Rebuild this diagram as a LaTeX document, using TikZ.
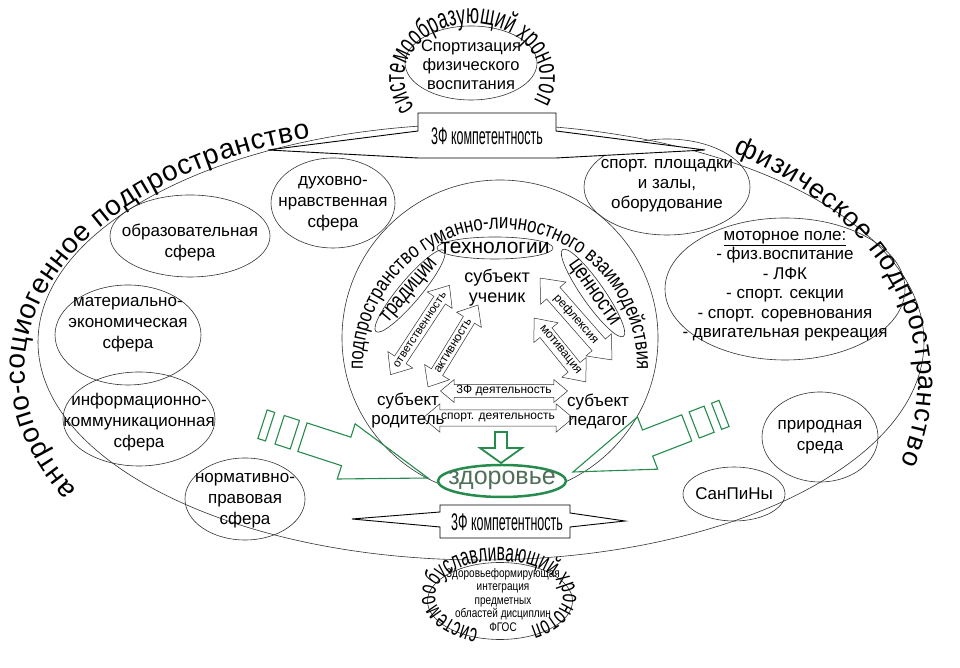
\documentclass[tikz,border=0pt]{standalone}
\usepackage{fontspec}
\setmainfont{Liberation Sans}
\newfontfamily\narA[FakeStretch=0.62]{Liberation Sans}
\newfontfamily\narB[FakeStretch=0.8]{Liberation Sans}
\newfontfamily\narC[FakeStretch=0.52]{Liberation Sans}
\usetikzlibrary{shapes.geometric,shapes.arrows,decorations.text}
\definecolor{grn}{RGB}{38,140,78}
\definecolor{grntxt}{RGB}{80,110,90}
\definecolor{ln}{RGB}{50,50,50}
\newcommand\fsz[2]{\fontsize{#1}{#2}\selectfont}
\begin{document}
\begin{tikzpicture}[x=1pt,y=1pt,
  every node/.style={inner sep=0pt,outer sep=0pt},
  sph/.style={draw=ln,line width=0.6pt,ellipse},
  lab/.style={align=center,font=\fsz{17}{21}},
  curv/.style={decorate,decoration={text along path,text align=fit to path,text={#1}}},
  curvc/.style={decorate,decoration={text along path,text align=center,text={#1}}},
  darr/.style={double arrow,draw=ln,line width=0.5pt,double arrow tip angle=80,inner xsep=1pt},
  garr/.style={draw=grn,line width=1.1pt,line join=miter},
  ban/.style={draw=black,line width=0.9pt,fill=white,line join=miter}]
\useasboundingbox (0,0) rectangle (960,668);
\begin{scope}[shift={(0,668)}]
% outer sphere
\node[sph,fill=white,minimum width=886,minimum height=436] (outer) at (481,-342) {};
\path[curv={|\fsz{28}{28}|антропо-социогенное подпространство}] (410,-370) ++(210:385 and 240) arc[start angle=210,end angle=105,x radius=385,y radius=240];
\path[curv={|\fsz{27}{27}|физическое подпространство}] (560,-382) ++(61:358 and 262) arc[start angle=61,end angle=-18,x radius=358,y radius=262];
% middle sphere
\node[draw=ln,line width=0.6pt,circle,minimum size=316] (mid) at (500,-338) {};
\path[curvc={|\narB\fsz{21}{21}|подпространство гуманно-личностного взаимодействия}] (500,-366) ++(185:137) arc[start angle=185,end angle=-5,radius=137];
% left spheres
\node[sph,minimum width=124,minimum height=90] (duh) at (333,-203) {};
\node[lab] (duhT) at (333,-204) {духовно-\\нравственная\\сфера};
\node[sph,minimum width=160,minimum height=82] (obr) at (190,-236) {};
\node[lab] (obrT) at (190,-243) {образовательная\\сфера};
\node[sph,minimum width=146,minimum height=100] (mat) at (128,-335) {};
\node[lab] (matT) at (128,-325) {материально-\\экономическая\\сфера};
\node[sph,minimum width=152,minimum height=94] (inf) at (139,-419) {};
\node[lab] (infT) at (139,-422) {информационно-\\коммуникационная\\сфера};
\node[sph,minimum width=120,minimum height=82] (nor) at (245,-499) {};
\node[lab] (norT) at (245,-501) {нормативно-\\правовая\\сфера};
% right spheres
\node[sph,minimum width=166,minimum height=96] (spo) at (667,-187) {};
\node[lab,font=\fsz{17}{20}] (spoT) at (667,-186) {спорт. площадки\\и залы,\\оборудование};
\node[sph,minimum width=240,minimum height=142] (mot) at (785,-289) {};
\node[lab,font=\fsz{17}{19.5}] (motT) at (785,-286) {\underline{моторное поле:}\\- физ.воспитание\\- ЛФК\\- спорт. секции\\- спорт. соревнования\\- двигательная рекреация};
\node[sph,minimum width=116,minimum height=90] (pri) at (820,-437) {};
\node[lab] (priT) at (820,-437) {природная\\среда};
\node[sph,minimum width=102,minimum height=54] (san) at (734,-494) {};
\node[lab] (sanT) at (734,-494) {СанПиНы};
% top chronotope
\node[sph,fill=white,minimum width=132,minimum height=74] (topE) at (471,-63) {};
\node[align=center,font=\fsz{16.5}{19}] (topT) at (471,-65) {Спортизация\\физического\\воспитания};
\path[curvc={|\narA\fsz{28}{28}|системообразующий хронотоп}] (472,-78) ++(234:68 and 54) arc[start angle=234,end angle=-47,x radius=68,y radius=54];
% bottom chronotope
\node[sph,fill=white,minimum width=145,minimum height=77] (botE) at (500,-601) {};
\node[align=center,font=\narB\fsz{12.5}{13.5}] (botT) at (503,-600) {Здоровьеформирующая\\интеграция\\предметных\\областей дисциплин\\ФГОС};
\path[curvc={|\narA\fsz{25}{25}|системообуславливающий хронотоп}] (499,-596) ++(275:64 and 35) arc[start angle=275,end angle=-85,x radius=64,y radius=35];
% banners
\path[ban] (268,-150) -- (418,-131) -- (418,-113) -- (556,-113) -- (556,-131) -- (705,-150) -- (556,-158) -- (418,-158) -- cycle;
\node[font=\narC\fsz{24}{24}] (kt1) at (487,-136) {3Ф компетентность};
\path[ban] (352,-519) -- (440,-512) -- (440,-505) -- (570,-505) -- (570,-513) -- (625,-521) -- (570,-527) -- (570,-538) -- (440,-538) -- (440,-527) -- cycle;
\node[font=\narC\fsz{24}{24}] (kt2) at (507,-522) {3Ф компетентность};
% inner ovals
\node[draw=ln,line width=0.6pt,ellipse,minimum width=116,minimum height=22] (tech) at (495,-248) {};
\node[font=\fsz{21}{21}] (techT) at (495,-248) {технологии};
\node[draw=ln,line width=0.6pt,ellipse,rotate=50,minimum width=106,minimum height=22] (trad) at (410,-291) {};
\node[font=\narB\fsz{22}{22},rotate=50] (tradT) at (410,-291) {традиции};
\node[draw=ln,line width=0.6pt,ellipse,rotate=-55,minimum width=106,minimum height=22] (cen) at (593,-293) {};
\node[font=\narB\fsz{22}{22},rotate=-55] (cenT) at (593,-293) {ценности};
% subjects
\node[align=center,font=\fsz{18}{20}] (uch) at (497,-288) {субъект\\ученик};
\node[align=center,font=\fsz{17}{19}] (rod) at (408,-411) {субъект\\родитель};
\node[align=center,font=\fsz{17}{19}] (ped) at (598,-411) {субъект\\педагог};
% double arrows
\node[darr,rotate=56.6,minimum height=102,font=\fsz{11.5}{11.5},inner ysep=3.5pt,double arrow head extend=8pt] (otv) at (420,-330) {ответственность};
\node[darr,rotate=58.6,minimum height=96,font=\fsz{12}{12},inner ysep=3pt,double arrow head extend=8pt] (akt) at (453,-346) {активность};
\node[darr,rotate=-48.7,minimum height=109,font=\fsz{12}{12},inner ysep=3pt,double arrow head extend=8pt] (ref) at (576,-319) {рефлексия};
\node[darr,rotate=-51,minimum height=82,font=\fsz{12}{12},inner ysep=3pt,double arrow head extend=8pt] (motv) at (560,-350) {мотивация};
\node[darr,minimum height=127,font=\fsz{12}{12},inner ysep=0.8pt,double arrow head extend=5pt] (zfd) at (504,-391) {3Ф деятельность};
\node[darr,minimum height=150,font=\fsz{12}{12},inner ysep=3.5pt,double arrow head extend=6pt] (spd) at (498,-418) {спорт. деятельность};
% green
\path[garr,line width=1.8pt] (495,-432) -- (507,-432) -- (507,-448) -- (522,-448) -- (501,-463) -- (480,-448) -- (495,-448) -- cycle;
\node[draw=grn,line width=2.5pt,ellipse,fill=white,minimum width=128,minimum height=32] (zdo) at (502,-481) {};
\node[text=grntxt,font=\fsz{25}{25}] (zdoT) at (502,-480) {здоровье};
\begin{scope}[shift={(428,-478)},rotate=-18]
\draw[garr] (0,0) -- (-86,29) -- (-86,15) -- (-132,15) -- (-132,-15) -- (-86,-15) -- (-86,-29) -- cycle;
\draw[garr] (-140,15) rectangle (-156,-15);
\draw[garr] (-166,15) rectangle (-174,-15);
\end{scope}
\begin{scope}[shift={(573,-472)},rotate=201.2]
\draw[garr] (0,0) -- (-80,28) -- (-80,14) -- (-122,14) -- (-122,-14) -- (-80,-14) -- (-80,-28) -- cycle;
\draw[garr] (-130,14) rectangle (-146,-14);
\draw[garr] (-154,14) rectangle (-162,-14);
\end{scope}
\end{scope}
\end{tikzpicture}
\end{document}
